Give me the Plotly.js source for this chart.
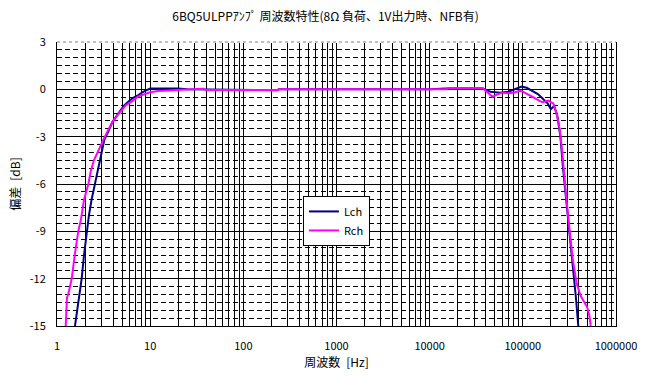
<!DOCTYPE html>
<html>
<head>
<meta charset="utf-8">
<script src="https://cdn.plot.ly/plotly-3.0.1.min.js"></script>
<style>html,body{margin:0;padding:0;background:#fff;}#chart{width:651px;height:379px;}</style>
</head>
<body>
<div id="chart"></div>
<script>
// Lch data (frequency [Hz], deviation [dB])
const lchFreq = [1.56,1.65,1.75,1.84,1.95,2.08,2.2,2.35,2.56,2.75,2.95,3.22,3.55,3.92,4.3,4.66,5.2,5.82,6.5,7.46,8.5,10,15,20,25,40,100,230,240,1000,10000,15000,37000,45000,56600,70000,93000,97000,110000,126000,145000,162000,185000,200000,217000,235000,253000,270000,292000,316000,342000,370000,394000];
const lchDb = [-15,-14,-13,-12,-10.5,-9,-8,-7,-6,-5,-4.2,-3.2,-2.68,-2.09,-1.75,-1.42,-1.05,-0.78,-0.55,-0.36,-0.15,0.05,0.07,0.06,0,-0.02,-0.06,-0.06,0,0,0,0.05,0.05,-0.15,-0.21,-0.15,0.12,0.17,0.1,-0.09,-0.3,-0.57,-0.9,-1.25,-1.06,-1.7,-3.0,-5.0,-7.0,-8.8,-10.7,-13.1,-15];

// Rch data
const rchFreq = [1.24,1.28,1.32,1.38,1.44,1.55,1.69,1.8,1.95,2.17,2.3,2.49,2.8,3.14,3.47,3.92,4.3,4.82,5.5,6.33,7.46,10,12.1,19.2,36.8,40,100,235,240,15000,16000,37000,42000,47000,52000,60000,71000,81000,93000,100000,126000,162000,187000,212000,230000,250000,265000,275000,292000,316000,342000,378000,418000,490000,520000,535000];
const rchDb = [-15,-13.2,-13,-12.5,-12,-10.5,-9,-8.3,-7,-6,-5.2,-4.5,-3.8,-3.2,-2.68,-2.09,-1.75,-1.42,-1.0,-0.78,-0.44,-0.19,-0.1,-0.05,0.03,-0.05,-0.06,-0.05,0,0,0.08,0.08,-0.2,-0.47,-0.35,-0.21,-0.25,-0.2,-0.09,-0.15,-0.47,-0.82,-0.72,-0.89,-1.52,-2.58,-4.0,-5.3,-6.8,-8.8,-10.7,-12.3,-13.1,-13.8,-14.4,-15];

// Tick labels
const xDecades = [1,10,100,1000,10000,100000,1000000];
const xDecadeLabels = ["1","10","100","1000","10000","100000","1000000"];
const yTicks = [3,0,-3,-6,-9,-12,-15];
const yTickLabels = ["3","0","-3","-6","-9","-12","-15"];

const titleText = "6BQ5ULPPｱﾝﾌﾟ 周波数特性(8Ω 負荷、1V出力時、NFB有)";
const xTitle = "周波数\u2002[Hz]";
const yTitle = "偏差\u2002[dB]";
const seriesNames = ["Lch","Rch"];

// build x gridline ticks at every 1..9 multiple
const xTickVals = [], xTickText = [];
xDecades.forEach((d, i) => {
  if (i === xDecades.length - 1) { xTickVals.push(d); xTickText.push(xDecadeLabels[i]); return; }
  for (let m = 1; m <= 9; m++) {
    xTickVals.push(d * m);
    xTickText.push(m === 1 ? xDecadeLabels[i] : "");
  }
});

const font = "'Noto Sans CJK JP', 'Liberation Sans', sans-serif";

const traces = [
  {x: lchFreq, y: lchDb, name: seriesNames[0], type: 'scatter', mode: 'lines',
   line: {color: '#000080', width: 2}},
  {x: rchFreq, y: rchDb, name: seriesNames[1], type: 'scatter', mode: 'lines',
   line: {color: '#FF00FF', width: 2}}
];

const layout = {
  width: 651, height: 379,
  margin: {l: 57, r: 35, t: 42, b: 53},
  paper_bgcolor: '#fff', plot_bgcolor: '#fff',
  font: {family: font, size: 11, color: '#000'},
  title: {text: titleText, font: {family: font, size: 12, color: '#000'},
          x: 0.5, xanchor: 'center', y: 0.955, yanchor: 'middle'},
  xaxis: {
    type: 'log', range: [0, 6],
    tickmode: 'array', tickvals: xTickVals, ticktext: xTickText,
    showgrid: true, gridcolor: '#000', gridwidth: 1,
    showline: true, linecolor: '#000', linewidth: 1, mirror: false,
    ticks: '', ticklabelstandoff: 10,
    zeroline: false,
    tickfont: {family: font, size: 11, color: '#000'},
    title: {text: xTitle, font: {family: font, size: 12, color: '#000'}, standoff: 6}
  },
  yaxis: {
    range: [-15, 3],
    tickmode: 'array', tickvals: yTicks, ticktext: yTickLabels,
    showgrid: true, gridcolor: '#000', gridwidth: 1,
    minor: {tickmode: 'linear', tick0: 0, dtick: 0.5, showgrid: true,
            gridcolor: '#000', gridwidth: 1, griddash: '5px,3px', ticks: ''},
    showline: true, linecolor: '#000', linewidth: 1, mirror: true,
    ticks: '', ticklabelstandoff: 8,
    zeroline: false,
    tickfont: {family: font, size: 11, color: '#000'},
    title: {text: yTitle, font: {family: font, size: 12, color: '#000'}, standoff: 6}
  },
  showlegend: true,
  legend: {
    x: 0.44, y: 0.458, xanchor: 'left', yanchor: 'top',
    bgcolor: '#fff', bordercolor: '#000', borderwidth: 1,
    font: {family: font, size: 11, color: '#000'},
    itemwidth: 30, tracegroupgap: 4
  },
  shapes: [
    {type: 'line', xref: 'paper', yref: 'paper', x0: 0, x1: 1, y0: 1, y1: 1,
     line: {color: '#fff', width: 2}},
    {type: 'line', xref: 'paper', yref: 'paper', x0: 0, x1: 1, y0: 1, y1: 1,
     line: {color: '#808080', width: 1, dash: 'dot'}}
  ]
};

Plotly.newPlot('chart', traces, layout, {staticPlot: true, displayModeBar: false});
</script>
</body>
</html>
